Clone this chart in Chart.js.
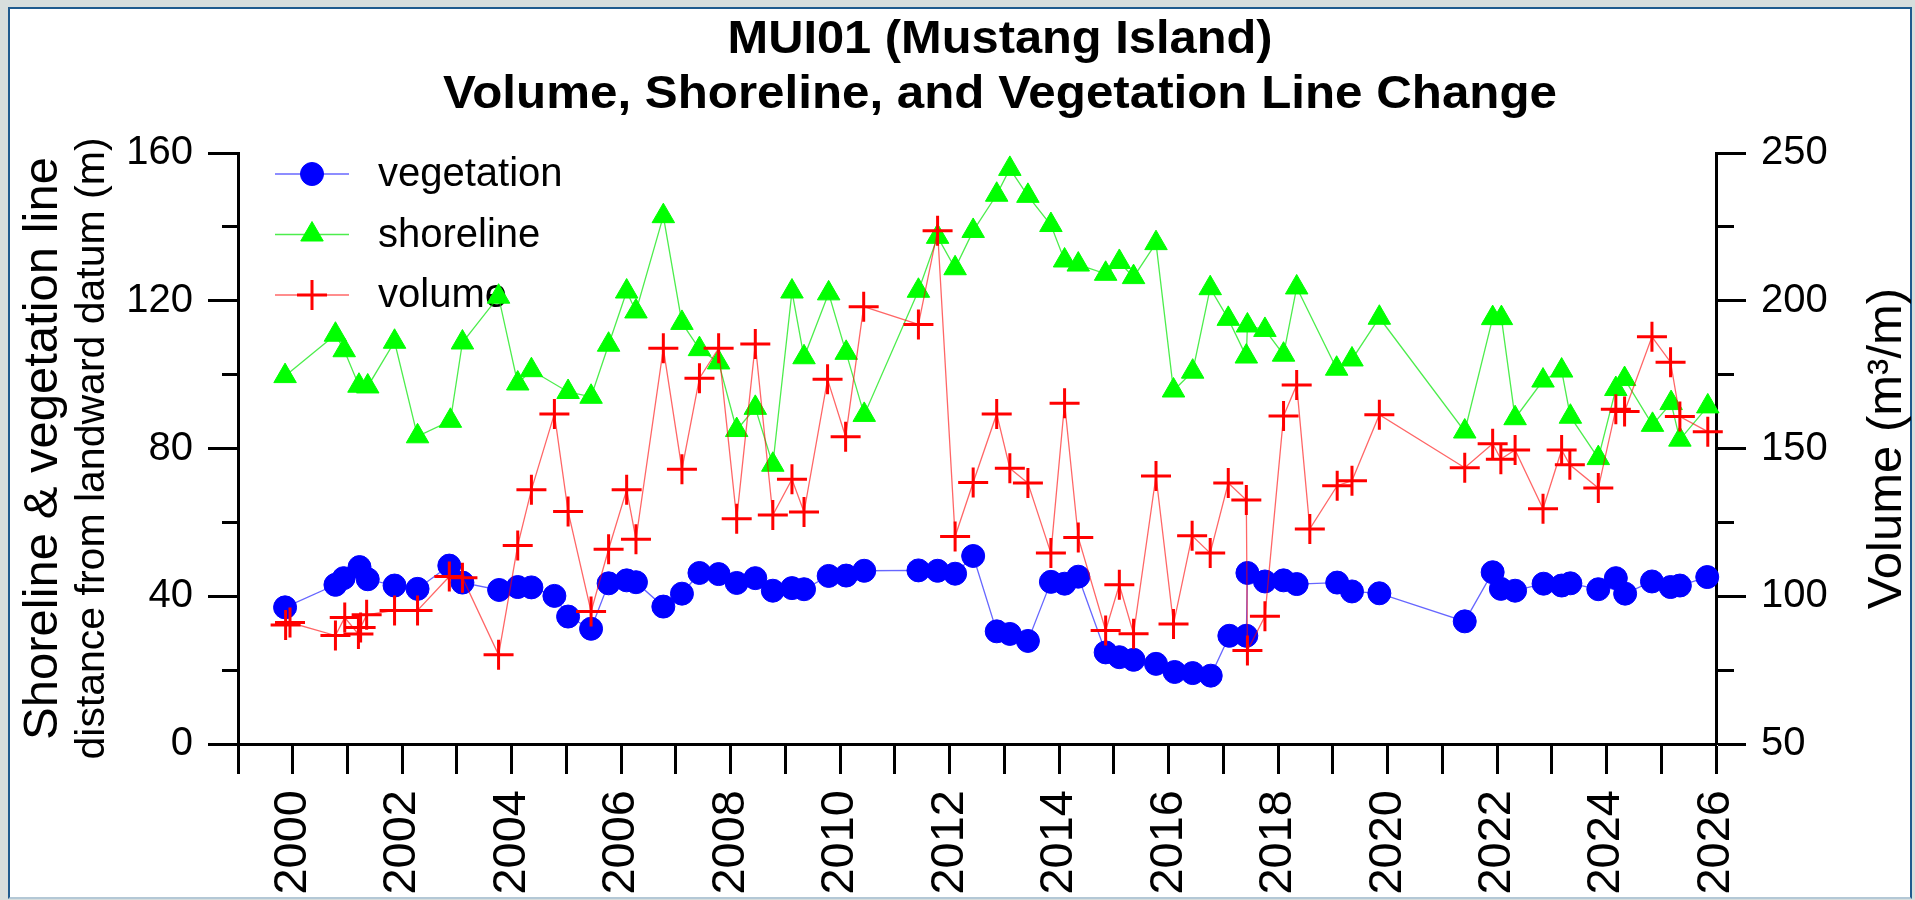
<!DOCTYPE html>
<html>
<head>
<meta charset="utf-8">
<title>MUI01 (Mustang Island)</title>
<script src="https://cdn.jsdelivr.net/npm/chart.js@4.4.1/dist/chart.umd.min.js"></script>
<style>
  html, body { margin: 0; padding: 0; background: #d7dedd; overflow: hidden; }
  #frame { position: absolute; left: 8px; top: 7px; width: 1900px; height: 888px; background: #fff;
           border: 2px solid #1f5b8e; border-bottom-color: #b4c8d6; }
  #wrap { position: absolute; left: 0; top: 0; width: 1915px; height: 900px; }
</style>
</head>
<body>
<div id="frame"></div>
<div id="wrap"><canvas id="chart" width="1915" height="900"></canvas></div>
<script>
// MUI01 profile: vegetation line, shoreline (left axis, m) and volume (right axis, m3/m)
// dates are decimal years

var vegDates = [1999.86, 2000.78, 2000.93, 2001.22, 2001.37, 2001.86, 2002.28, 2002.86, 2003.10, 2003.77,
  2004.11, 2004.36, 2004.78, 2005.03, 2005.45, 2005.77, 2006.10, 2006.27, 2006.77, 2007.11,
  2007.43, 2007.78, 2008.11, 2008.45, 2008.77, 2009.12, 2009.34, 2009.79, 2010.11, 2010.44,
  2011.43, 2011.78, 2012.10, 2012.43, 2012.86, 2013.10, 2013.43, 2013.85, 2014.10, 2014.35,
  2014.85, 2015.10, 2015.36, 2015.77, 2016.11, 2016.44, 2016.77, 2017.11, 2017.42, 2017.44,
  2017.76, 2018.10, 2018.34, 2019.08, 2019.35, 2019.85, 2021.41, 2021.92, 2022.07, 2022.33,
  2022.85, 2023.18, 2023.34, 2023.85, 2024.17, 2024.34, 2024.83, 2025.17, 2025.34, 2025.84];
var vegValues = [37.0, 43.1, 44.9, 47.9, 44.6, 42.9, 42.0, 48.3, 43.7, 41.7,
  42.5, 42.4, 40.1, 34.5, 31.2, 43.5, 44.3, 43.8, 37.2, 40.7,
  46.3, 46.0, 43.6, 44.9, 41.5, 42.2, 41.9, 45.5, 45.6, 46.9,
  47.0, 46.9, 46.1, 50.9, 30.5, 29.8, 27.9, 43.9, 43.4, 45.3,
  24.8, 23.5, 22.8, 21.7, 19.5, 19.2, 18.5, 29.3, 29.3, 46.3,
  44.0, 44.3, 43.3, 43.7, 41.3, 40.8, 33.2, 46.5, 42.0, 41.5,
  43.4, 42.9, 43.5, 41.9, 44.9, 40.7, 44.0, 42.5, 42.9, 45.2];

var shoreDates = [1999.86, 2000.78, 2000.94, 2001.21, 2001.37, 2001.86, 2002.28, 2002.88, 2003.10, 2003.76,
  2004.11, 2004.36, 2005.03, 2005.45, 2005.77, 2006.10, 2006.27, 2006.77, 2007.11, 2007.43,
  2007.78, 2008.11, 2008.45, 2008.77, 2009.12, 2009.34, 2009.79, 2010.11, 2010.44, 2011.43,
  2011.78, 2012.10, 2012.43, 2012.86, 2013.10, 2013.43, 2013.85, 2014.10, 2014.35, 2014.85,
  2015.10, 2015.36, 2015.77, 2016.09, 2016.44, 2016.76, 2017.09, 2017.42, 2017.44, 2017.76,
  2018.10, 2018.34, 2019.07, 2019.35, 2019.85, 2021.41, 2021.92, 2022.08, 2022.33, 2022.84,
  2023.18, 2023.34, 2023.85, 2024.17, 2024.33, 2024.84, 2025.18, 2025.34, 2025.85];
var shoreValues = [99.6, 110.8, 106.6, 97.0, 96.8, 108.9, 83.3, 87.5, 108.7, 121.1,
  97.6, 101.2, 95.3, 94.0, 108.1, 122.5, 117.1, 142.9, 114.0, 106.9,
  103.3, 85.0, 91.0, 75.6, 122.5, 104.7, 122.0, 105.9, 89.1, 122.7,
  137.3, 128.8, 138.9, 148.7, 155.7, 148.4, 140.5, 130.9, 129.8, 127.3,
  130.5, 126.4, 135.6, 95.7, 100.8, 123.4, 115.1, 104.9, 113.3, 112.1,
  105.4, 123.6, 101.6, 104.1, 115.4, 84.6, 115.3, 115.3, 88.2, 98.4,
  101.1, 88.6, 77.4, 96.1, 98.8, 86.4, 92.3, 82.4, 91.4];

var volDates = [1999.87, 1999.95, 2000.78, 2000.95, 2001.20, 2001.24, 2001.35, 2001.86, 2002.28, 2002.86,
  2003.10, 2003.76, 2004.11, 2004.36, 2004.78, 2005.03, 2005.45, 2005.77, 2006.10, 2006.27,
  2006.77, 2007.11, 2007.43, 2007.78, 2008.11, 2008.45, 2008.77, 2009.12, 2009.34, 2009.77,
  2010.10, 2010.43, 2011.43, 2011.78, 2012.10, 2012.43, 2012.86, 2013.10, 2013.43, 2013.85,
  2014.10, 2014.35, 2014.85, 2015.10, 2015.36, 2015.77, 2016.09, 2016.43, 2016.76, 2017.09,
  2017.42, 2017.44, 2017.76, 2018.10, 2018.34, 2018.58, 2019.08, 2019.35, 2019.85, 2021.41,
  2021.92, 2022.07, 2022.33, 2022.84, 2023.18, 2023.33, 2023.85, 2024.17, 2024.33, 2024.83,
  2025.17, 2025.34, 2025.85];
var volValues = [90.3, 91.1, 86.7, 92.8, 87.2, 89.4, 93.7, 95.2, 95.2, 106.7,
  106.3, 80.2, 117.2, 136.0, 161.7, 128.7, 94.8, 115.9, 136.0, 119.3,
  183.9, 143.0, 173.8, 183.9, 126.2, 185.4, 127.5, 139.6, 128.5, 173.4,
  154.0, 198.0, 192.0, 223.7, 120.2, 138.5, 161.7, 143.3, 138.3, 114.6,
  165.3, 119.9, 88.4, 103.9, 87.3, 140.7, 90.6, 120.5, 114.6, 138.3,
  132.6, 81.6, 93.2, 161.0, 171.5, 122.8, 137.4, 139.1, 161.4, 143.5,
  151.6, 146.4, 149.5, 129.6, 149.5, 144.5, 136.6, 163.3, 162.5, 187.8,
  179.2, 160.8, 155.7];

// labelled ticks (the others are minor ticks without text)
var yearLabels = [2000, 2002, 2004, 2006, 2008, 2010, 2012, 2014, 2016, 2018, 2020, 2022, 2024, 2026];
var leftLabels = [0, 40, 80, 120, 160];
var rightLabels = [50, 100, 150, 200, 250];

var titleLines = ['MUI01 (Mustang Island)', 'Volume, Shoreline, and Vegetation Line Change'];

function pairs(xs, ys) {
  return xs.map(function (x, i) { return { x: x, y: ys[i] }; });
}

var SANS = "'Liberation Sans', Arial, sans-serif";

// title: bold Arial, a bit wider than normal like the original export
var wideTitle = {
  id: 'wideTitle',
  afterDraw: function (chart) {
    var ctx = chart.ctx;
    var rows = [
      { text: titleLines[0], size: 47, base: 52.5, width: 545 },
      { text: titleLines[1], size: 46, base: 108, width: 1114 }
    ];
    rows.forEach(function (r) {
      ctx.save();
      ctx.font = 'bold ' + r.size + 'px ' + SANS;
      ctx.fillStyle = '#000';
      ctx.textAlign = 'center';
      ctx.textBaseline = 'alphabetic';
      var k = r.width / ctx.measureText(r.text).width;
      ctx.translate(1000, r.base);
      ctx.scale(k, 1);
      ctx.fillText(r.text, 0, 0);
      ctx.restore();
    });
  }
};

// legend drawn inside the plot, under the data (the markers overlap it in the original)
var insideLegend = {
  id: 'insideLegend',
  beforeDatasetsDraw: function (chart) {
    var ctx = chart.ctx, area = chart.chartArea;
    chart.data.datasets.forEach(function (ds, i) {
      var y = area.top + 21 + i * 60.5;
      ctx.save();
      ctx.strokeStyle = ds.borderColor;
      ctx.lineWidth = ds.borderWidth;
      ctx.beginPath();
      ctx.moveTo(area.left + 37, y);
      ctx.lineTo(area.left + 111, y);
      ctx.stroke();
      ctx.fillStyle = ds.pointBackgroundColor;
      ctx.strokeStyle = ds.pointBorderColor;
      ctx.lineWidth = ds.pointBorderWidth;
      Chart.helpers.drawPoint(ctx, { pointStyle: ds.pointStyle, radius: ds.pointRadius, rotation: 0, borderWidth: ds.pointBorderWidth }, area.left + 74, y);
      ctx.fillStyle = '#000';
      ctx.font = '40px ' + SANS;
      ctx.textAlign = 'left';
      ctx.textBaseline = 'middle';
      ctx.fillText(ds.label, area.left + 140, y + 1);
      ctx.restore();
    });
  }
};

// axis titles: both side titles read bottom-to-top, left one has two sizes
var axisTitles = {
  id: 'axisTitles',
  afterDraw: function (chart) {
    var ctx = chart.ctx, area = chart.chartArea;
    var midY = (area.top + area.bottom) / 2;
    function vText(text, x, font) {
      ctx.save();
      ctx.translate(x, midY);
      ctx.rotate(-Math.PI / 2);
      ctx.fillStyle = '#000';
      ctx.font = font;
      ctx.textAlign = 'center';
      ctx.textBaseline = 'middle';
      ctx.fillText(text, 0, 0);
      ctx.restore();
    }
    vText('Shoreline & vegetation line', area.left - 195, '49px ' + SANS);
    vText('distance from landward datum (m)', area.left - 145, '41px ' + SANS);
    vText('Volume (m\u00B3/m)', area.right + 171, '49px ' + SANS);
  }
};

function minorDash(values, dash) {
  return function (c) { return values.indexOf(c.tick.value) >= 0 ? [] : dash; };
}

new Chart(document.getElementById('chart'), {
  type: 'line',
  data: {
    datasets: [
      {
        label: 'vegetation', data: pairs(vegDates, vegValues), yAxisID: 'y', order: 3,
        borderColor: 'rgba(0,0,255,0.6)', borderWidth: 1.3,
        pointStyle: 'circle', pointRadius: 11.5, pointBorderWidth: 1,
        pointBackgroundColor: '#0000ff', pointBorderColor: '#0000ff'
      },
      {
        label: 'shoreline', data: pairs(shoreDates, shoreValues), yAxisID: 'y', order: 2,
        borderColor: 'rgba(0,230,0,0.7)', borderWidth: 1.3,
        pointStyle: 'triangle', pointRadius: 13, pointBorderWidth: 1,
        pointBackgroundColor: '#00ff00', pointBorderColor: '#00ff00'
      },
      {
        label: 'volume', data: pairs(volDates, volValues), yAxisID: 'y2', order: 1,
        borderColor: 'rgba(255,0,0,0.6)', borderWidth: 1.3,
        pointStyle: 'cross', pointRadius: 15, pointBorderWidth: 3,
        pointBackgroundColor: '#ff0000', pointBorderColor: '#ff0000'
      }
    ]
  },
  options: {
    responsive: false,
    animation: false,
    events: [],
    clip: false,
    layout: { padding: { left: 80, right: 0, top: 153, bottom: 0 } },
    elements: { line: { tension: 0, fill: false } },
    plugins: {
      legend: { display: false },
      tooltip: { enabled: false },
      title: { display: false }
    },
    scales: {
      x: {
        type: 'linear', position: 'bottom', min: 1999, max: 2026,
        border: { display: true, color: '#000', width: 3 },
        grid: { display: true, drawOnChartArea: false, drawTicks: true, tickLength: 30, tickWidth: 3, tickColor: '#000' },
        ticks: {
          stepSize: 1, autoSkip: false, minRotation: 90, maxRotation: 90, padding: 16, color: '#000',
          font: { family: SANS, size: 47 },
          callback: function (v) { return yearLabels.indexOf(v) >= 0 ? String(v) : ''; }
        },
        afterFit: function (s) { s.height = 156; }
      },
      y: {
        position: 'left', min: 0, max: 160,
        border: { display: true, color: '#000', width: 3 },
        grid: {
          display: true, drawOnChartArea: false, tickLength: 30, tickWidth: 3, tickColor: '#000',
          tickBorderDash: minorDash(leftLabels, [16, 14]), tickBorderDashOffset: 16
        },
        ticks: {
          stepSize: 20, autoSkip: false, padding: 15, color: '#000',
          font: { family: SANS, size: 40 },
          callback: function (v) { return leftLabels.indexOf(v) >= 0 ? String(v) : ''; }
        },
        afterFit: function (s) { s.width = 158; }
      },
      y2: {
        position: 'right', min: 50, max: 250,
        border: { display: true, color: '#000', width: 3 },
        grid: {
          display: true, drawOnChartArea: false, tickLength: 30, tickWidth: 3, tickColor: '#000',
          tickBorderDash: minorDash(rightLabels, [16, 100])
        },
        ticks: {
          stepSize: 25, autoSkip: false, padding: 15, color: '#000',
          font: { family: SANS, size: 40 },
          callback: function (v) { return rightLabels.indexOf(v) >= 0 ? String(v) : ''; }
        },
        afterFit: function (s) { s.width = 199; }
      }
    }
  },
  plugins: [insideLegend, axisTitles, wideTitle]
});
</script>
</body>
</html>
